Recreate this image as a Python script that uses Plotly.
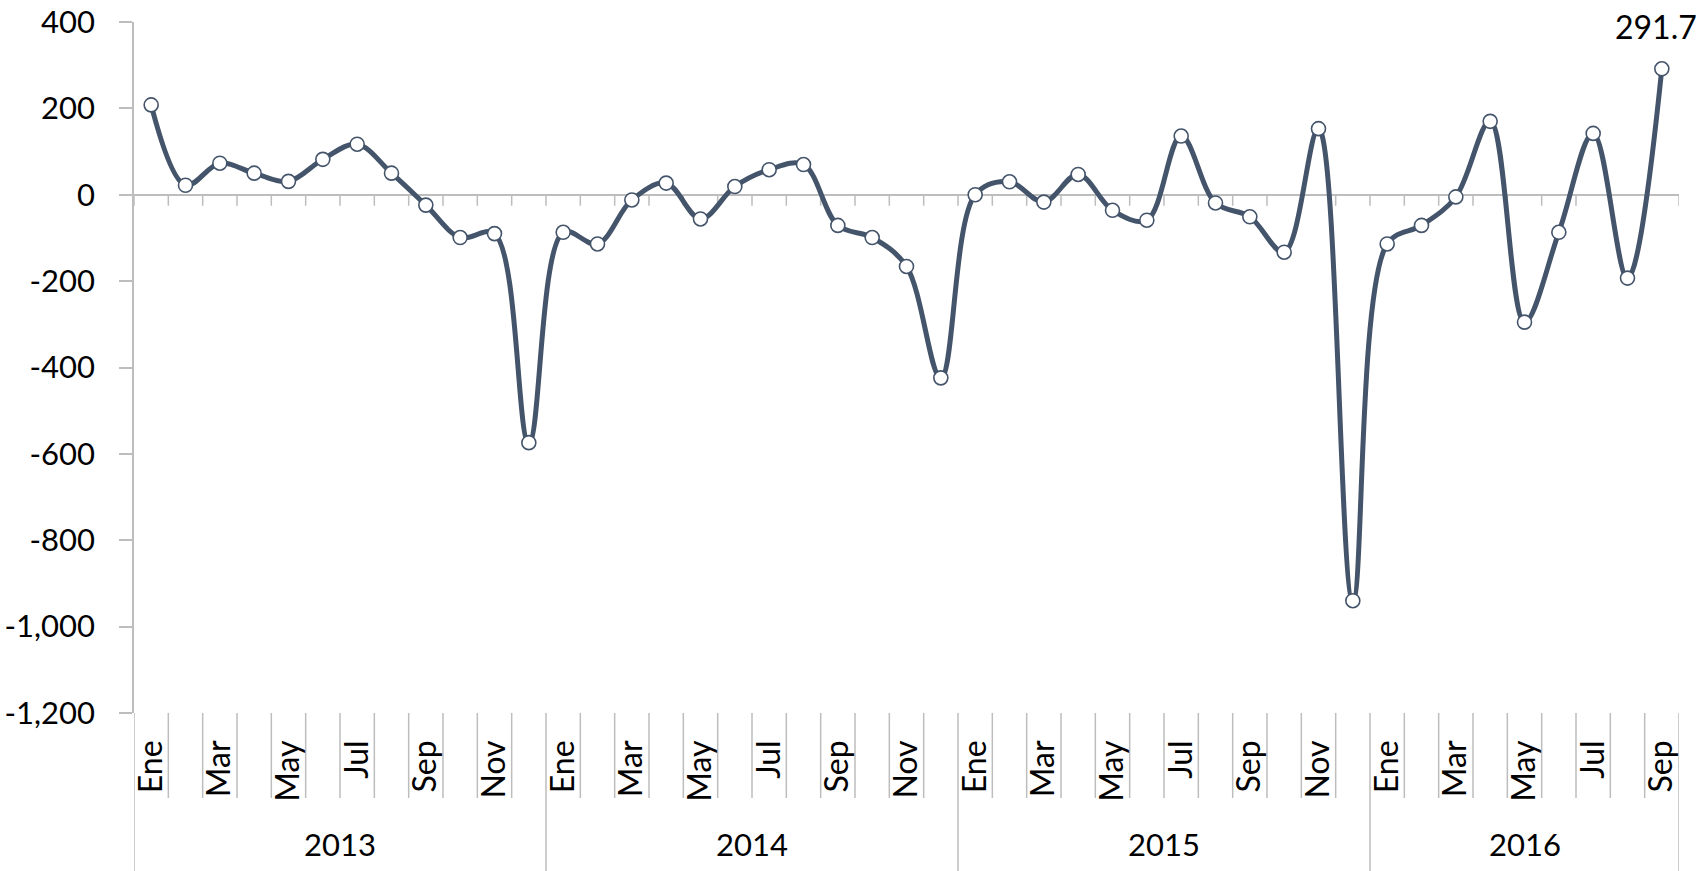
import plotly.graph_objects as go

# ---------------- data ----------------
years = ["2013", "2014", "2015", "2016"]
months = ["Ene", "Feb", "Mar", "Abr", "May", "Jun", "Jul", "Ago", "Sep", "Oct", "Nov", "Dic"]
months_per_year = [12, 12, 12, 9]
values = [
    208, 22, 73, 50, 31, 82, 117, 50, -24, -99, -90, -574,      # 2013
    -87, -114, -12, 27, -56, 19, 58, 70, -71, -99, -166, -424,  # 2014
    0, 30, -17, 47, -36, -59, 136, -19, -51, -133, 153, -940,   # 2015
    -114, -71, -5, 170, -295, -87, 142, -193, 291.7,            # 2016
]
y_ticks = [-1200, -1000, -800, -600, -400, -200, 0, 200, 400]
last_label = "291.7"

# ---------------- build categories ----------------
cat_month = []
cat_year = []
for y, n in zip(years, months_per_year):
    for m in months[:n]:
        cat_month.append(m)
        cat_year.append(y)
x_idx = list(range(len(values)))
n_cat = len(values)

LINE = "#44546A"
GRID = "#BDBDBD"
FONT = "Lato"

fig = go.Figure()
fig.add_trace(go.Scatter(
    x=x_idx, y=values, mode="lines+markers",
    line=dict(color=LINE, width=5, shape="spline", smoothing=1.0),
    marker=dict(symbol="circle", size=14, color="white", line=dict(color=LINE, width=1.6)),
    hoverinfo="x+y", showlegend=False,
))

shapes = []
# short ticks below the zero line at each category boundary
for k in range(n_cat + 1):
    shapes.append(dict(type="line", xref="x", yref="y", x0=k - 0.5, x1=k - 0.5,
                       ysizemode="pixel", yanchor=0, y0=0, y1=-11,
                       line=dict(color=GRID, width=1.5), layer="below"))
# separators in the label band
year_bounds = []
acc = 0
for n in months_per_year:
    acc += n
    year_bounds.append(acc)
for k in range(0, n_cat + 1):
    long = (k == 0) or (k in year_bounds)
    shapes.append(dict(type="line", xref="x", yref="paper", x0=k - 0.5, x1=k - 0.5,
                       ysizemode="pixel", yanchor=0, y0=0, y1=-170 if long else -85,
                       line=dict(color=GRID, width=1.5), layer="below"))

annotations = []
# year labels
start = 0
for y, n in zip(years, months_per_year):
    center = start + (n - 1) / 2
    annotations.append(dict(x=center, xref="x", y=0, yref="paper", yshift=-131,
                            text=y, showarrow=False, yanchor="middle", xanchor="center",
                            font=dict(family=FONT, size=31, color="black")))
    start += n
# data label on the last point
annotations.append(dict(x=x_idx[-1], y=values[-1], xref="x", yref="y",
                        text=last_label, showarrow=False, yanchor="middle", xanchor="center",
                        yshift=42, xshift=-6,
                        font=dict(family=FONT, size=32, color="black")))

tick_idx = [i for i in x_idx if i % 2 == 0]
fig.update_layout(
    width=1698, height=871,
    margin=dict(l=134, r=19, t=22, b=158),
    paper_bgcolor="white", plot_bgcolor="white",
    template="none",
    font=dict(family=FONT, color="black"),
    shapes=shapes, annotations=annotations,
    xaxis=dict(
        range=[-0.5, n_cat - 0.5], showgrid=False, zeroline=False, showline=False,
        tickmode="array", tickvals=tick_idx, ticktext=[cat_month[i] for i in tick_idx],
        tickangle=-90, ticks="", ticklabelstandoff=20,
        tickfont=dict(family=FONT, size=32, color="black"), automargin=False,
    ),
    yaxis=dict(
        range=[-1200, 400], showgrid=False,
        zeroline=True, zerolinecolor=GRID, zerolinewidth=1.5,
        showline=True, linecolor=GRID, linewidth=1.5,
        ticks="outside", ticklen=13, tickcolor=GRID, tickwidth=1.5,
        tickmode="array", tickvals=y_ticks, ticktext=[f"{v:,}" for v in y_ticks],
        ticklabelstandoff=18,
        tickfont=dict(family=FONT, size=31, color="black"), automargin=False,
    ),
)

fig.write_html(
    "out.html",
    config={"displayModeBar": False},
    post_script="document.body.style.margin='0';document.body.style.overflow='hidden';",
)
